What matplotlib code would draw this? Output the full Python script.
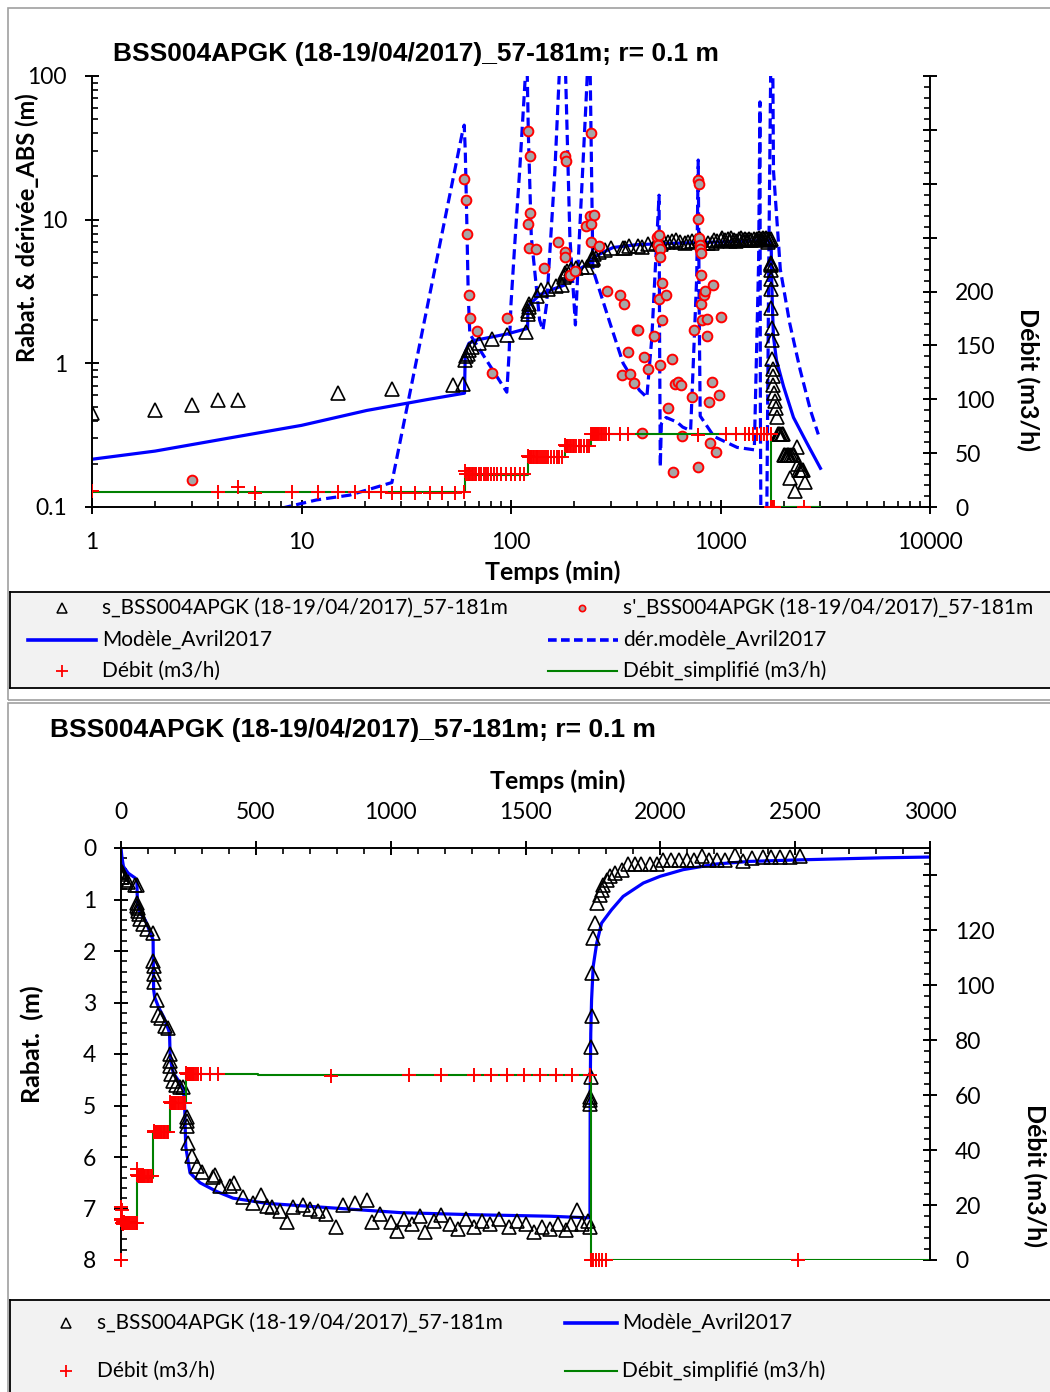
import numpy as np
import matplotlib
matplotlib.use("Agg")
import matplotlib.pyplot as plt
from matplotlib.ticker import FuncFormatter, LogLocator, MultipleLocator, NullFormatter
from matplotlib.patches import Rectangle

plt.rcParams['font.family'] = ['Lato', 'DejaVu Sans']

# ---- donnees ----
# rabattement s (triangles)
s_t = [1, 2, 3, 4, 5, 15, 27, 53, 59, 60,
       61, 62, 63, 65, 70, 81, 96, 118, 120, 121,
       121.5, 122, 133, 139, 150, 164, 175, 180, 181, 182,
       185, 194, 205, 219, 230, 244, 245, 246, 250, 262,
       281, 300, 342, 350, 367, 404, 420, 453, 490, 521,
       540, 560, 590, 614, 639, 676, 700, 730, 760, 799,
       824, 868, 911, 930, 960, 1000, 1022, 1050, 1080, 1110,
       1127, 1160, 1187, 1220, 1250, 1280, 1310, 1340, 1370, 1400,
       1440, 1470, 1500, 1530, 1560, 1590, 1620, 1650, 1670, 1690,
       1710, 1730, 1739, 1740, 1740.5, 1741, 1742, 1743, 1745, 1748,
       1752, 1757, 1766, 1776, 1782, 1788, 1801, 1815, 1832, 1856,
       1881, 1905, 1930, 1960, 1986, 2011, 2040, 2070, 2100, 2125,
       2153, 2180, 2210, 2240, 2277, 2307, 2340, 2380, 2410, 2445,
       2480, 2518]
s_val = [0.45, 0.47, 0.51, 0.56, 0.555, 0.62, 0.66, 0.71, 0.72, 1.06,
         1.13, 1.17, 1.23, 1.29, 1.38, 1.48, 1.58, 1.66, 2.2, 2.3,
         2.45, 2.6, 2.95, 3.25, 3.3, 3.45, 3.5, 4.0, 4.13, 4.23,
         4.39, 4.52, 4.6, 4.65, 4.65, 5.22, 5.3, 5.4, 5.73, 5.99,
         6.18, 6.3, 6.38, 6.35, 6.57, 6.57, 6.5, 6.77, 6.9, 6.73,
         6.96, 6.98, 7.05, 7.26, 6.97, 6.93, 7.0, 7.05, 7.1, 7.35,
         6.93, 6.9, 6.83, 7.26, 7.1, 7.26, 7.44, 7.2, 7.3, 7.15,
         7.46, 7.25, 7.13, 7.3, 7.4, 7.2, 7.35, 7.25, 7.3, 7.2,
         7.35, 7.25, 7.3, 7.45, 7.35, 7.4, 7.3, 7.42, 7.3, 7.03,
         7.3, 7.25, 7.35, 4.97, 4.9, 4.84, 4.45, 3.87, 3.27, 2.43,
         1.75, 1.46, 1.07, 0.91, 0.82, 0.71, 0.62, 0.55, 0.49, 0.42,
         0.32, 0.32, 0.32, 0.32, 0.32, 0.23, 0.23, 0.23, 0.23, 0.23,
         0.16, 0.23, 0.23, 0.23, 0.13, 0.26, 0.2, 0.18, 0.18, 0.18,
         0.18, 0.15]

# derivee s' (cercles)
sd_t = [3, 59.7, 61, 61.7, 63, 63.6, 69, 81, 95.5, 120,
        121, 121.5, 123, 123.5, 131, 143, 167, 181, 183, 181.5,
        182, 191, 202, 227, 238, 241, 241.5, 242, 250, 264,
        288, 333, 337, 345, 361, 370, 385, 400, 406, 420,
        433, 452, 480, 496, 505, 508, 510, 515, 516, 515.5,
        525, 526, 548, 560, 585, 596, 605, 625, 650, 655,
        730, 750, 778, 780, 790, 781, 791, 797, 800, 803,
        808, 810, 820, 830, 845, 860, 862, 885, 890, 910,
        925, 950, 980, 1010]
sd_val = [0.154, 19.3, 13.7, 8.0, 3.0, 2.07, 1.69, 0.85, 2.06, 41.6,
          9.3, 6.4, 27.9, 11.1, 6.2, 4.6, 7.0, 27.6, 25.7, 6.0,
          5.5, 4.1, 4.4, 9.1, 10.6, 40, 7.0, 9.3, 10.8, 6.6,
          3.2, 3.0, 0.83, 2.6, 1.2, 0.84, 0.73, 1.7, 1.7, 0.33,
          1.11, 0.91, 1.55, 7.6, 6.7, 2.8, 7.8, 6.2, 5.5, 0.97,
          2.0, 3.6, 3.0, 0.49, 1.07, 0.175, 0.72, 0.74, 0.71, 0.31,
          0.58, 1.7, 0.19, 18.9, 17.8, 10.1, 7.4, 6.7, 6.2, 5.9,
          4.1, 2.6, 2.0, 3.0, 3.2, 2.05, 1.55, 0.54, 0.28, 0.74,
          3.5, 0.24, 0.6, 2.1]

# modele (bi-log)
mod_log_t = [1, 2, 5, 10, 20.5, 40, 60, 60.5, 63, 68,
             95.5, 120, 120.5, 137, 160, 180, 181, 184, 210, 238,
             242, 256, 280, 307, 400, 600, 1000, 1400, 1700, 1745,
             1755, 1770, 1790, 1850, 2000, 2230, 2580, 3000]
mod_log_s = [0.215, 0.245, 0.31, 0.37, 0.47, 0.56, 0.62, 1.2, 1.38, 1.45,
             1.6, 1.75, 2.5, 3.0, 3.3, 3.5, 3.8, 4.0, 4.5, 5.0,
             5.3, 5.6, 6.0, 6.4, 6.7, 6.85, 7.0, 7.1, 7.2, 6.9,
             4.0, 2.4, 1.53, 1.05, 0.69, 0.42, 0.28, 0.186]

# derivee du modele
der_t = [8, 11.8, 17, 27, 58.5, 59.8, 60.5, 61.5, 62.5, 63.6,
         95.5, 98, 100, 105, 110, 116, 119, 121, 125, 137,
         142, 148, 162, 172, 178, 181, 191, 203, 212, 228,
         234, 238, 246, 297, 343, 410, 445, 470, 490, 509,
         512, 516, 522, 550, 620, 660, 720, 770, 783, 792,
         800, 930, 1200, 1450, 1520, 1543, 1550, 1560, 1660, 1700,
         1740, 1775, 1790, 1930, 2140, 2400, 2690, 2930]
der_val = [0.098, 0.112, 0.121, 0.148, 40, 45.5, 30, 10, 3, 1.6,
           0.63, 1.2, 2.6, 8, 22, 80, 150, 40, 7.6, 2.0,
           1.7, 2.6, 22, 150, 150, 150, 7.6, 1.85, 7.6, 65,
           150, 150, 4.5, 1.9, 1.0, 0.65, 0.58, 1.5, 5, 14.8,
           1.5, 0.19, 0.38, 0.42, 0.39, 0.36, 0.34, 4, 26, 2,
           0.43, 0.31, 0.26, 0.25, 5, 66, 0.5, 0.06, 0.06, 5,
           150, 150, 22, 4.5, 1.9, 0.9, 0.47, 0.32]

# modele (lineaire)
mod_lin_t = [0, 3, 9, 27, 52, 59, 60, 62, 70, 90,
             114, 119, 120, 121, 125, 140, 160, 176, 180, 182,
             185, 194, 219, 231, 236, 240, 256, 293, 355, 416,
             540, 787, 1035, 1300, 1591, 1727, 1739, 1740, 1742, 1745,
             1751, 1764, 1782, 1819, 1862, 1937, 1999, 2085, 2209, 2332,
             2517, 2826, 3006]
mod_lin_s = [0, 0.16, 0.36, 0.49, 0.58, 0.62, 0.9, 1.1, 1.25, 1.4,
             1.72, 1.78, 2.3, 2.75, 2.9, 3.1, 3.3, 3.53, 3.6, 4.0,
             4.15, 4.37, 4.56, 4.66, 5.0, 5.8, 6.31, 6.5, 6.67, 6.8,
             6.9, 6.99, 7.08, 7.12, 7.15, 7.18, 7.18, 4.7, 3.6, 2.95,
             2.3, 1.85, 1.46, 1.2, 0.94, 0.68, 0.55, 0.42, 0.31, 0.26,
             0.23, 0.19, 0.175]

# debit mesure (m3/h)
deb_t = [0, 0, 0, 1, 4, 5, 6, 9, 12, 15,
         18, 21, 24, 27, 30, 35, 41, 47, 54, 59.5,
         60.5, 61, 62, 63, 64, 65, 66, 67, 68, 70,
         72, 74, 76, 78, 80, 83, 86, 90, 95, 100,
         105, 110, 115, 121, 122, 123, 124, 125, 127, 129,
         131, 133, 135, 138, 141, 144, 147, 150, 155, 160,
         165, 170, 176, 182, 184, 186, 188, 191, 194, 197,
         200, 205, 210, 215, 222, 230, 236, 242, 244, 246,
         248, 250, 252, 254, 256, 258, 261, 264, 268, 272,
         278, 285, 295, 330, 360, 779, 1068, 1187, 1309, 1372,
         1431, 1494, 1554, 1613, 1672, 1739, 1742, 1746, 1752, 1760,
         1772, 1785, 1800, 2511]
deb_q = [0, 19.4, 14.5, 14.8, 13.5, 18.2, 13.2, 14, 14, 13.6,
         13.6, 13.6, 13.6, 13.4, 13.4, 13.4, 13.4, 13.4, 13.4, 13.6,
         33, 31, 30.5, 30.5, 30.5, 30.5, 30.5, 30.5, 30.5, 30.5,
         30.5, 30.5, 30.5, 30.5, 30.5, 30.5, 30.5, 30.5, 30.5, 30.5,
         30.5, 30.5, 30.5, 47, 46.5, 46.5, 46.5, 46.5, 46.5, 46.5,
         46.5, 46.5, 46.5, 46.5, 46.5, 46.5, 46.5, 46.5, 46.5, 46.5,
         46.5, 46.5, 46.5, 57.5, 57, 57, 57, 57, 57, 57,
         57, 57, 57, 57, 57, 57, 57, 68, 67.8, 67.8,
         67.8, 67.8, 67.8, 67.8, 67.8, 67.8, 67.8, 67.8, 67.8, 67.8,
         67.8, 67.8, 67.8, 67.8, 67.8, 67, 67.3, 67.3, 67.3, 67.3,
         67.3, 67.3, 67.3, 67.3, 67.3, 67.3, 0, 0, 0, 0,
         0, 0, 0, 0]

# debit simplifie (paliers)
simpl_t = [0, 60, 120, 181, 240, 509, 1742, 3000]
simpl_q = [13.8, 30, 46.5, 57, 67.8, 67.3, 0, 0]

titre = "BSS004APGK (18-19/04/2017)_57-181m; r= 0.1 m"
lab_s = "s_BSS004APGK (18-19/04/2017)_57-181m"
lab_sd = "s'_BSS004APGK (18-19/04/2017)_57-181m"
lab_mod = "Modèle_Avril2017"
lab_der = "dér.modèle_Avril2017"
lab_deb = "Débit (m3/h)"
lab_simpl = "Débit_simplifié (m3/h)"

# ---- figure ----
W, H = 1050, 1392
fig = plt.figure(figsize=(W / 100, H / 100), dpi=100)
fig.patch.set_facecolor('white')


def fx(x):
    return x / W


def fy(y):
    return 1 - y / H


BLUE = '#0000ff'
GREEN = '#008000'
TICK = 16.5
LAB = 18
DASH = (0, (3.2, 1.6))

# cadres gris
fig.add_artist(Rectangle((fx(8), fy(700)), fx(1070) - fx(8), fy(8) - fy(700),
                         transform=fig.transFigure, fill=False, edgecolor='#a0a0a0', lw=1.2))
fig.add_artist(Rectangle((fx(8), fy(1420)), fx(1070) - fx(8), fy(703) - fy(1420),
                         transform=fig.transFigure, fill=False, edgecolor='#a0a0a0', lw=1.2))


def style_ticks(ax, axis):
    ax.tick_params(axis=axis, which='major', direction='inout', length=10, width=1.4,
                   labelsize=TICK, pad=13)
    ax.tick_params(axis=axis, which='minor', direction='in', length=4.5, width=1.2)


# ---- graphique 1 : bi-log ----
ax1 = fig.add_axes([fx(92), fy(507), fx(930) - fx(92), fy(76) - fy(507)])
ax1.set_xscale('log')
ax1.set_yscale('log')
ax1.set_xlim(1, 10000)
ax1.set_ylim(0.1, 100)

ax1.plot(mod_log_t, mod_log_s, color=BLUE, lw=2.3, zorder=2)
ax1.plot(der_t, der_val, color=BLUE, lw=2.3, ls=DASH, zorder=2)
ax1.plot(s_t, s_val, ls='none', marker='^', ms=9.5, mfc='none', mec='black', mew=1.2, zorder=3)
ax1.plot(sd_t, sd_val, ls='none', marker='o', ms=7, mfc='#a6a6a6', mec='red', mew=1.4, zorder=4)

fmt = FuncFormatter(lambda v, p: f'{v:g}')
for axis in (ax1.xaxis, ax1.yaxis):
    axis.set_major_locator(LogLocator(base=10, numticks=20))
    axis.set_minor_locator(LogLocator(base=10, subs=np.arange(2, 10), numticks=100))
    axis.set_major_formatter(fmt)
    axis.set_minor_formatter(NullFormatter())
style_ticks(ax1, 'both')
ax1.spines['top'].set_visible(False)
ax1.spines['right'].set_visible(False)
for sp in ('left', 'bottom'):
    ax1.spines[sp].set_linewidth(1.4)

ax1r = ax1.twinx()
ax1r.set_ylim(0, 400)
t_deb = np.array(deb_t, dtype=float)
q_deb = np.array(deb_q)
ok = t_deb > 0
ax1r.plot(np.where(np.array(simpl_t) > 0, simpl_t, 1), simpl_q, color=GREEN, lw=1.5,
          drawstyle='steps-post', zorder=2)
ax1r.plot(t_deb[ok], q_deb[ok], ls='none', marker='+', ms=10, mec='red', mew=1.4, zorder=3)
ax1r.yaxis.set_major_locator(MultipleLocator(50))
ax1r.yaxis.set_minor_locator(MultipleLocator(10))
ax1r.yaxis.set_major_formatter(FuncFormatter(lambda v, p: f'{v:g}' if v <= 200 else ''))
style_ticks(ax1r, 'y')
for sp in ('top', 'left', 'bottom'):
    ax1r.spines[sp].set_visible(False)
ax1r.spines['right'].set_linewidth(1.4)

fig.text(fx(113), fy(54), titre, ha='left', va='center', fontsize=19,
         fontweight='bold', family='Liberation Sans')
fig.text(fx(553), fy(572), 'Temps (min)', ha='center', va='center', fontsize=LAB, fontweight='bold')
fig.text(fx(27), fy(228), 'Rabat. & dérivée_ABS (m)', ha='center', va='center', fontsize=17,
         fontweight='bold', rotation=90)
fig.text(fx(1028), fy(380), 'Débit (m3/h)', ha='center', va='center', fontsize=LAB,
         fontweight='bold', rotation=270)

# ---- graphique 2 : lineaire ----
ax2 = fig.add_axes([fx(121), fy(1260), fx(930) - fx(121), fy(848) - fy(1260)])
ax2.set_xlim(0, 3000)
ax2.set_ylim(8, 0)
ax2.plot(mod_lin_t, mod_lin_s, color=BLUE, lw=2.3, zorder=2)
ax2.plot(s_t, s_val, ls='none', marker='^', ms=9.5, mfc='none', mec='black', mew=1.2, zorder=3)
ax2.xaxis.set_ticks_position('top')
ax2.xaxis.set_major_locator(MultipleLocator(500))
ax2.xaxis.set_minor_locator(MultipleLocator(100))
ax2.yaxis.set_major_locator(MultipleLocator(1))
ax2.yaxis.set_minor_locator(MultipleLocator(0.2))
style_ticks(ax2, 'both')
ax2.spines['bottom'].set_visible(False)
ax2.spines['right'].set_visible(False)
for sp in ('left', 'top'):
    ax2.spines[sp].set_linewidth(1.4)

ax2r = ax2.twinx()
ax2r.set_ylim(0, 150)
ax2r.plot(simpl_t, simpl_q, color=GREEN, lw=1.5, drawstyle='steps-post', zorder=2)
ax2r.plot(deb_t, deb_q, ls='none', marker='+', ms=10, mec='red', mew=1.4, zorder=3,
          clip_on=False)
ax2r.yaxis.set_major_locator(MultipleLocator(20))
ax2r.yaxis.set_minor_locator(MultipleLocator(4))
ax2r.yaxis.set_major_formatter(FuncFormatter(lambda v, p: f'{v:g}' if v <= 120 else ''))
style_ticks(ax2r, 'y')
for sp in ('top', 'left', 'bottom'):
    ax2r.spines[sp].set_visible(False)
ax2r.spines['right'].set_linewidth(1.4)

fig.text(fx(50), fy(730), titre, ha='left', va='center', fontsize=19,
         fontweight='bold', family='Liberation Sans')
fig.text(fx(558), fy(781), 'Temps (min)', ha='center', va='center', fontsize=LAB, fontweight='bold')
fig.text(fx(32), fy(1044), 'Rabat.  (m)', ha='center', va='center', fontsize=LAB,
         fontweight='bold', rotation=90)
fig.text(fx(1035), fy(1176), 'Débit (m3/h)', ha='center', va='center', fontsize=LAB,
         fontweight='bold', rotation=270)


# ---- legendes ----
def legend_panel(top, bottom):
    lax = fig.add_axes([fx(10), fy(bottom), 1.0, fy(top) - fy(bottom)])
    lax.set_xlim(10, 10 + W)
    lax.set_ylim(bottom, top)
    lax.set_xticks([])
    lax.set_yticks([])
    lax.set_facecolor('#f2f2f2')
    for sp in lax.spines.values():
        sp.set_linewidth(1.3)
    return lax


LEG = 15
lg1 = legend_panel(592, 688)
lg1.plot([62], [608], marker='^', ms=7, mfc='none', mec='black', mew=1.1)
lg1.text(102, 608, lab_s, va='center', fontsize=LEG)
lg1.plot([582], [608], marker='o', ms=4.5, mfc='#a6a6a6', mec='red', mew=1.2)
lg1.text(623, 608, lab_sd, va='center', fontsize=LEG)
lg1.plot([28, 96], [640, 640], color=BLUE, lw=2.6)
lg1.text(102, 640, lab_mod, va='center', fontsize=LEG)
lg1.plot([548, 618], [640, 640], color=BLUE, lw=2.6, ls=(0, (2.4, 1.2)))
lg1.text(623, 640, lab_der, va='center', fontsize=LEG)
lg1.plot([62], [671], marker='+', ms=9, mec='red', mew=1.3)
lg1.text(102, 671, lab_deb, va='center', fontsize=LEG)
lg1.plot([548, 617], [671, 671], color=GREEN, lw=1.5)
lg1.text(623, 671, lab_simpl, va='center', fontsize=LEG)

lg2 = legend_panel(1300, 1420)
lg2.plot([66], [1323], marker='^', ms=7, mfc='none', mec='black', mew=1.1)
lg2.text(97, 1323, lab_s, va='center', fontsize=LEG)
lg2.plot([565, 617], [1323, 1323], color=BLUE, lw=2.6)
lg2.text(622, 1323, lab_mod, va='center', fontsize=LEG)
lg2.plot([66], [1371], marker='+', ms=9, mec='red', mew=1.3)
lg2.text(97, 1371, lab_deb, va='center', fontsize=LEG)
lg2.plot([565, 617], [1371, 1371], color=GREEN, lw=1.5)
lg2.text(622, 1371, lab_simpl, va='center', fontsize=LEG)

fig.savefig('out.png', dpi=100)
